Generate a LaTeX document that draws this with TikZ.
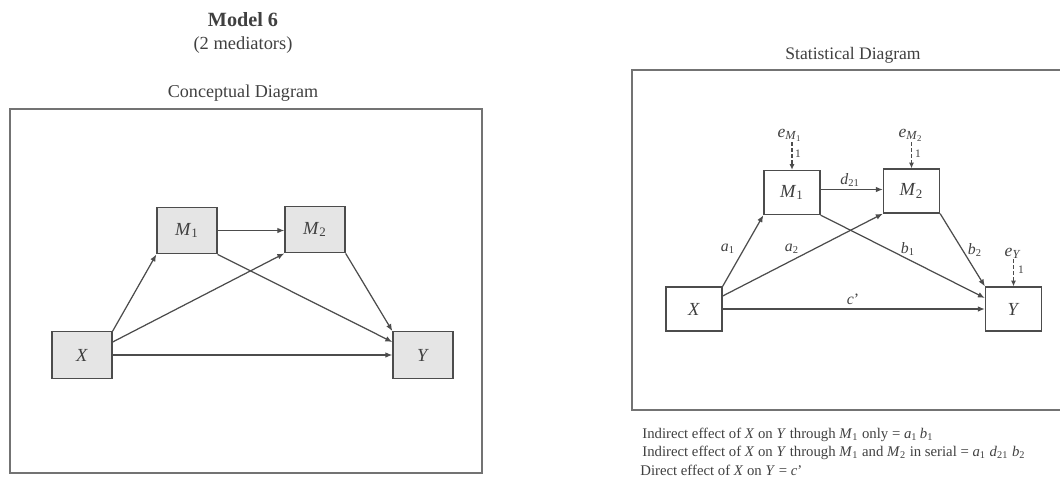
\documentclass[tikz,border=0pt]{standalone}
\usepackage{fontspec}
\setmainfont{Liberation Serif}
\usetikzlibrary{arrows.meta,calc}
\newcommand\vv[2]{\textit{#1}\textsubscript{#2}}
\begin{document}
\begin{tikzpicture}[x=0.02cm,y=-0.02cm,
  txt/.style={text=black!75,inner sep=0pt},
  cbox/.style={draw=black!70,fill=black!10,line width=0.75pt,minimum width=1.2cm,minimum height=0.93cm,inner sep=0pt,text=black!75,font=\fontsize{10.5}{12}\selectfont},
  sbox/.style={draw=black!70,fill=white,line width=0.75pt,minimum width=1.12cm,minimum height=0.88cm,inner sep=0pt,text=black!75,font=\fontsize{10.5}{12}\selectfont},
  conn/.style={draw=black!70,line width=0.7pt,-{Latex[length=4pt,width=3.2pt]}},
  dconn/.style={draw=black!70,line width=0.7pt,dashed,dash pattern=on 2pt off 1.5pt,-{Latex[length=3.2pt,width=2.8pt]}},
  lab/.style={txt,font=\fontsize{8.4}{9}\selectfont},
  frame/.style={draw=black!55,line width=0.8pt}]
\useasboundingbox (0,0) rectangle (1060,477);
% titles
\node[txt,font=\fontsize{11.5}{13}\selectfont\bfseries] (title) at (243,20) {Model 6};
\node[txt,font=\fontsize{10.5}{12}\selectfont] (subtitle) at (243,45) {(2 mediators)};
\node[txt,font=\fontsize{10.3}{12}\selectfont] (ctitle) at (243,93) {Conceptual Diagram};
\node[txt,font=\fontsize{10}{12}\selectfont] (stitle) at (853,55) {Statistical Diagram};
% frames
\draw[frame] (10,109) rectangle (482,473);
\draw[frame] (1070,70) -- (632,70) -- (632,410) -- (1070,410);
% conceptual diagram
\node[cbox] (cM1) at (187,230.5) {\vv{M}{1}};
\node[cbox] (cM2) at (315,229.5) {\vv{M}{2}};
\node[cbox] (cX) at (82,355) {\textit{X}};
\node[cbox] (cY) at (423,355) {\textit{Y}};
\draw[conn] (cX.north east) -- (cM1.south west);
\draw[conn] ([yshift=0.26cm]cX.east) -- (cM2.south west);
\draw[conn] (cX.east) -- (cY.west);
\draw[conn] (cM1.east) -- (cM2.west |- cM1.east);
\draw[conn] (cM1.south east) -- ([yshift=0.26cm]cY.west);
\draw[conn] (cM2.south east) -- (cY.north west);
% statistical diagram
\node[sbox] (sM1) at (792,192.5) {\vv{M}{1}};
\node[sbox] (sM2) at (911.5,191) {\vv{M}{2}};
\node[sbox] (sX) at (694,309) {\textit{X}};
\node[sbox] (sY) at (1013.5,309) {\textit{Y}};
\draw[conn] (sX.north east) -- (sM1.south west);
\draw[conn] ([yshift=0.26cm]sX.east) -- (sM2.south west);
\draw[conn] (sX.east) -- (sY.west);
\draw[conn] ([yshift=0.06cm]sM1.east) -- ([yshift=0.06cm]sM1.east -| sM2.west);
\draw[conn] (sM1.south east) -- ([yshift=0.22cm]sY.west);
\draw[conn] (sM2.south east) -- (sY.north west);
% error terms
\node[txt,font=\fontsize{10}{11}\selectfont,anchor=south] (eM1) at (790,142) {\textit{e}\textsubscript{\textit{M}\textsubscript{1}}};
\node[txt,font=\fontsize{10}{11}\selectfont,anchor=south] (eM2) at (911,142) {\textit{e}\textsubscript{\textit{M}\textsubscript{2}}};
\node[txt,font=\fontsize{10}{11}\selectfont,anchor=south] (eY) at (1013,259) {\textit{e}\textsubscript{\textit{Y}}};
\draw[dconn] (eM1.south -| sM1.north) -- (sM1.north);
\draw[dconn] (eM2.south -| sM2.north) -- (sM2.north);
\draw[dconn] (eY.south -| sY.north) -- (sY.north);
\node[lab,font=\fontsize{6.5}{7}\selectfont] (oneM1) at (798,154) {1};
\node[lab,font=\fontsize{6.5}{7}\selectfont] (oneM2) at (918,154) {1};
\node[lab,font=\fontsize{6.5}{7}\selectfont] (oneY) at (1021,270) {1};
% path labels
\node[lab,font=\fontsize{9}{10}\selectfont] (la1) at (728,249) {\vv{a}{1}};
\node[lab,font=\fontsize{9}{10}\selectfont] (la2) at (792,249) {\vv{a}{2}};
\node[lab,font=\fontsize{9}{10}\selectfont] (lb1) at (908,249) {\vv{b}{1}};
\node[lab,font=\fontsize{9}{10}\selectfont] (lb2) at (975,250) {\vv{b}{2}};
\node[lab,font=\fontsize{9}{10}\selectfont] (lc) at (853,299) {\textit{c}’};
\node[lab,font=\fontsize{9}{10}\selectfont] (ld) at (850,180) {\vv{d}{21}};
% effects text
\node[lab,anchor=west] (t1) at (642,435) {Indirect effect of \textit{X} on \textit{Y} through \vv{M}{1} only = \vv{a}{1}\,\vv{b}{1}};
\node[lab,anchor=west] (t2) at (642,453) {Indirect effect of \textit{X} on \textit{Y} through \vv{M}{1} and \vv{M}{2} in serial = \vv{a}{1} \vv{d}{21}\ \vv{b}{2}};
\node[lab,anchor=west] (t3) at (640,470) {Direct effect of \textit{X} on \textit{Y} = \textit{c}’};
\end{tikzpicture}
\end{document}
